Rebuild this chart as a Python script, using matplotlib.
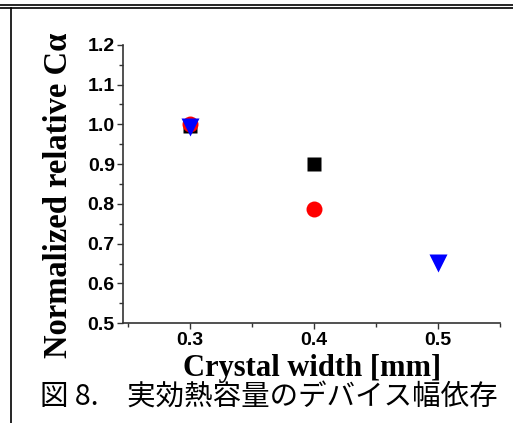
import matplotlib
matplotlib.use("Agg")
import matplotlib.pyplot as plt
from matplotlib.lines import Line2D
from matplotlib.ticker import MultipleLocator

# data
sq_x = [0.3, 0.4]
sq_y = [0.995, 0.90]
circ_x = [0.3, 0.4]
circ_y = [1.0, 0.787]
tri_x = [0.3, 0.5]
tri_y = [0.993, 0.651]

x_ticks = [0.3, 0.4, 0.5]
y_ticks = [0.5, 0.6, 0.7, 0.8, 0.9, 1.0, 1.1, 1.2]

fig = plt.figure(figsize=(5.13, 4.23), dpi=100)
ax = fig.add_axes([0.240, 0.236, 0.735, 0.658])

ax.plot(sq_x, sq_y, "s", color="black", ms=10.5, mec="none")
ax.plot(circ_x, circ_y, "o", color="red", ms=11.5, mec="none")
ax.plot(tri_x, tri_y, "v", color="blue", ms=12.5, mec="none")

ax.set_xlim(0.246, 0.55)
ax.set_ylim(0.5, 1.2)
ax.set_xticks(x_ticks)
ax.set_yticks(y_ticks)
ax.xaxis.set_minor_locator(MultipleLocator(0.05))
ax.yaxis.set_minor_locator(MultipleLocator(0.05))
ax.set_xticklabels([f"{v:.1f}" for v in x_ticks], fontweight="bold",
                   family="Liberation Sans", fontsize=14)
ax.set_yticklabels([f"{v:.1f}" for v in y_ticks], fontweight="bold",
                   family="Liberation Sans", fontsize=14)
ax.tick_params(which="major", length=4, width=1, color="#333333", pad=2)
ax.tick_params(which="minor", length=3, width=1, color="#333333")
ax.spines["top"].set_visible(False)
ax.spines["right"].set_visible(False)
for s in ["left", "bottom"]:
    ax.spines[s].set_color("#333333")
    ax.spines[s].set_linewidth(1.2)

ax.set_xlabel("Crystal width [mm]", family="Liberation Serif", fontweight="bold",
              fontsize=22, labelpad=4)
ax.set_ylabel("Normalized relative Cα", family="Liberation Serif", fontweight="bold",
              fontsize=23.5)
ax.yaxis.set_label_coords(-0.13, 0.46)

fig.text(0.078, 0.062, "図 8.　実効熱容量のデバイス幅依存",
         family=["Noto Sans CJK JP", "DejaVu Sans"], fontsize=20.5, va="center")

# frame lines of the page
fig.add_artist(Line2D([0, 1], [1 - 5 / 423, 1 - 5 / 423], color="black", lw=1.2))
fig.add_artist(Line2D([0, 1], [1 - 8.5 / 423, 1 - 8.5 / 423], color="black", lw=1.2))
fig.add_artist(Line2D([11 / 513, 11 / 513], [0, 1 - 8.5 / 423], color="black", lw=1.2))

fig.savefig("out.png", dpi=100)
